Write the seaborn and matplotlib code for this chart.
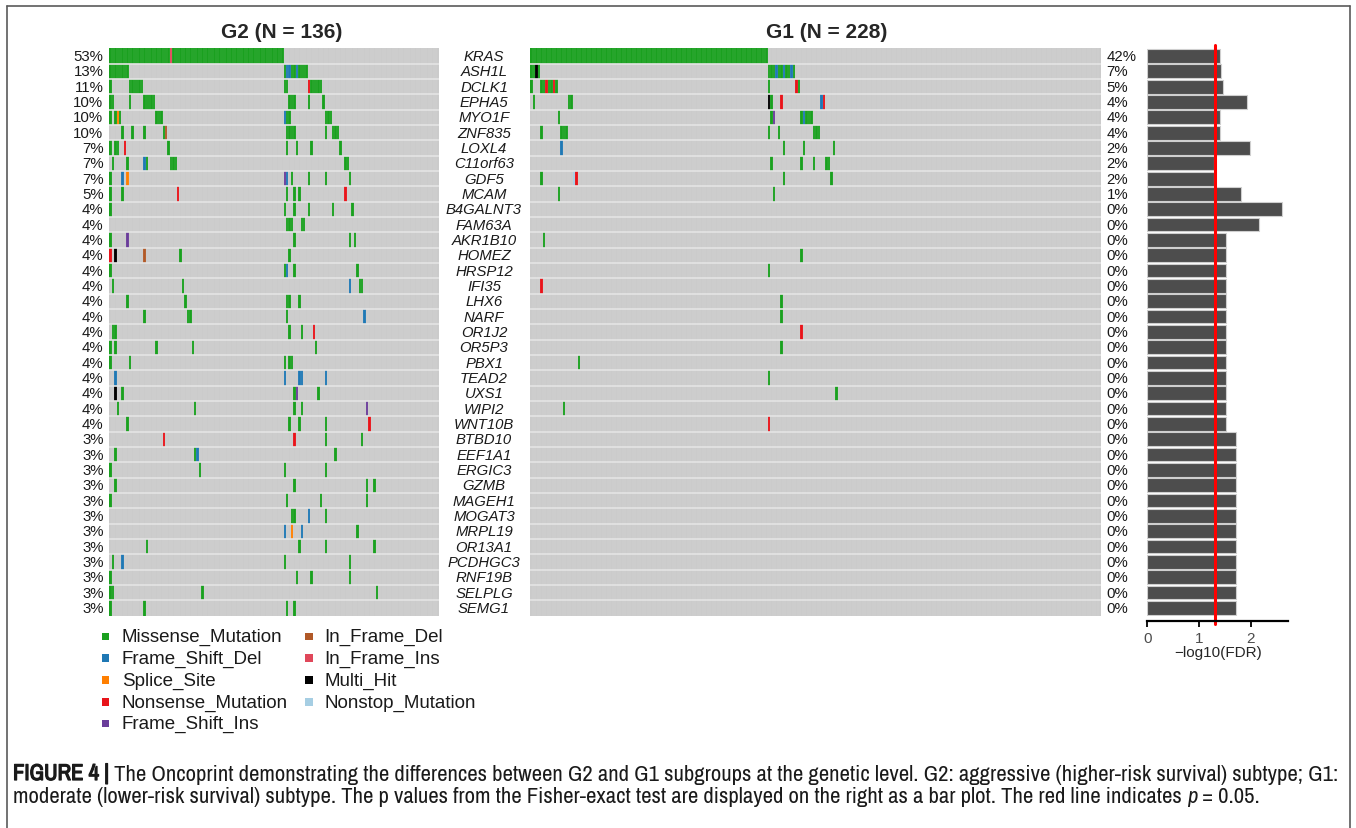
import numpy as np
import pandas as pd
import seaborn as sns
import matplotlib
matplotlib.use("Agg")
import matplotlib.pyplot as plt
import matplotlib.patheffects as pe
from matplotlib.colors import ListedColormap
from matplotlib.transforms import blended_transform_factory
from matplotlib.patches import Rectangle
from matplotlib.lines import Line2D
from matplotlib import font_manager

# ---------------- data ----------------
genes = ["KRAS", "ASH1L", "DCLK1", "EPHA5", "MYO1F", "ZNF835", "LOXL4", "C11orf63",
         "GDF5", "MCAM", "B4GALNT3", "FAM63A", "AKR1B10", "HOMEZ", "HRSP12", "IFI35",
         "LHX6", "NARF", "OR1J2", "OR5P3", "PBX1", "TEAD2", "UXS1", "WIPI2", "WNT10B",
         "BTBD10", "EEF1A1", "ERGIC3", "GZMB", "MAGEH1", "MOGAT3", "MRPL19", "OR13A1",
         "PCDHGC3", "RNF19B", "SELPLG", "SEMG1"]

n_g2 = 136
n_g1 = 228

mut_types = ["Missense_Mutation", "Frame_Shift_Del", "Splice_Site", "Nonsense_Mutation",
             "Frame_Shift_Ins", "In_Frame_Del", "In_Frame_Ins", "Multi_Hit", "Nonstop_Mutation"]
mut_codes = ["M", "D", "S", "N", "I", "d", "i", "X", "T"]
mut_colors = ["#1AA01F", "#1F78B4", "#FF7F00", "#E8141A", "#6A3D9A",
              "#B15928", "#E0475A", "#000000", "#A6CEE3"]

# sample index (or range) + mutation code, one string per gene (G2 samples)
g2_calls = [
    "0-24M 25i 26-71M",
    "0-7M 72M 73-74D 75-76M 77D 78-81M",
    "0M 8-13M 72-73M 82N 83-87M",
    "0-1M 8M 14-18M 74-76M 82M 88M",
    "0M 2M 3S 4M 19-21M 72D 73-74M 89-91M",
    "5M 9M 14M 22M 23d 73-76M 89M 92-94M",
    "0M 2-3M 6N 24M 73M 77M 83M 95M",
    "1M 7M 14D 15M 25-27M 97-98M",
    "0M 5D 7S 72I 73D 75M 82M 89M 99M",
    "0M 5M 28N 73M 76M 78M 97N",
    "0M 72M 76M 82M 92M 100M",
    "73-75M 79-80M",
    "0M 7I 76M 99M 101M",
    "0N 2X 14d 29M 74M",
    "0M 72M 73D 76M 102M",
    "1M 30M 99D 103-104M",
    "7M 31M 73-74M 78M",
    "14M 32-33M 73M 105D",
    "1-2M 74M 79M 84N",
    "0M 2M 19M 34M 85M",
    "0M 8M 72M 74-75M",
    "2D 72D 78-79D 89D",
    "2X 5M 76M 77I 86M",
    "3M 35M 76M 79M 106I",
    "7M 74M 78M 89M 107N",
    "22N 76N 89M 104M",
    "2M 35M 36D 93M",
    "0M 37M 72M 89M",
    "2M 76M 106M 109M",
    "0M 73M 87M 106M",
    "75-76M 82D 89M",
    "72D 75S 79D 102M",
    "15M 78M 89M 109M",
    "1M 5D 72M 99M",
    "0M 77M 83M 99M",
    "0-1M 38M 110M",
    "0M 14M 73M 76M",
]

# G1 samples
g1_calls = [
    "0-94M",
    "0-1M 2X 3M 95-97M 98D 99-100M 101D 102-103M 104D 105M",
    "0M 4-5M 6N 7-8M 9N 10M 95M 106N 107M",
    "1M 15-16M 95X 96M 100N 116D 117N",
    "11M 96M 97I 108M 109D 110-112M",
    "4M 12-14M 95M 99M 113-115M",
    "12D 101M 109M 121M",
    "96M 108M 113M 118-119M",
    "4M 17T 18N 101M 120M",
    "11M 97M",
    "",
    "",
    "5M",
    "108M",
    "95M",
    "4N",
    "100M",
    "100M",
    "108N",
    "100M",
    "19M",
    "95M",
    "122M",
    "13M",
    "95N",
    "", "", "", "", "", "", "", "", "", "", "", "",
]

# -log10(FDR) of Fisher exact test per gene
neglog10_fdr = [1.40, 1.42, 1.46, 1.93, 1.40, 1.40, 1.98, 1.28, 1.28, 1.81,
                2.60, 2.16, 1.53, 1.53, 1.53, 1.53, 1.53, 1.53, 1.53, 1.53,
                1.53, 1.53, 1.53, 1.53, 1.53, 1.72, 1.72, 1.72, 1.72, 1.72,
                1.72, 1.72, 1.72, 1.72, 1.72, 1.72, 1.72]
p_threshold = 0.05

caption_line1 = [("FIGURE 4 |", "bold", "normal"),
                 (" The Oncoprint demonstrating the differences between G2 and G1 subgroups at the genetic level. G2: aggressive (higher-risk survival) subtype; G1:", "normal", "normal")]
caption_line2 = [("moderate (lower-risk survival) subtype. The p values from the Fisher-exact test are displayed on the right as a bar plot. The red line indicates ", "normal", "normal"),
                 ("p", "normal", "italic"),
                 (" = 0.05.", "normal", "normal")]

# ---------------- helpers ----------------
def build_matrix(calls, n):
    mat = np.zeros((len(genes), n), dtype=int)
    for r, s in enumerate(calls):
        for tok in s.split():
            code, rng = tok[-1], tok[:-1]
            if "-" in rng:
                a, b = map(int, rng.split("-"))
            else:
                a = b = int(rng)
            mat[r, a:b + 1] = mut_codes.index(code) + 1
    return mat

def pct(mat):
    cnt = (mat > 0).sum(axis=1)
    return [int(np.floor(100.0 * c / mat.shape[1] + 0.5)) for c in cnt]

mat_g2 = build_matrix(g2_calls, n_g2)
mat_g1 = build_matrix(g1_calls, n_g1)

# ---------------- figure ----------------
sns.set_theme(style="white")
plt.rcParams["font.family"] = ["Liberation Sans", "DejaVu Sans"]

# pick a condensed face for the caption if one is installed
cap_family = "Liberation Sans"
for f in font_manager.fontManager.ttflist:
    if "Narrow" in f.name:
        cap_family = f.name
        break

W, H = 1356, 829
fig = plt.figure(figsize=(W / 100, H / 100), dpi=100)

def fx(px):
    return px / W

def fy(py):
    return 1 - py / H

top, bot = 49.3, 616.5
ax1 = fig.add_axes([fx(109.3), fy(bot), (438.5 - 109.3) / W, (bot - top) / H])
ax2 = fig.add_axes([fx(530), fy(bot), (1100.5 - 530) / W, (bot - top) / H])
ax3 = fig.add_axes([fx(1147.3), fy(bot), (1288 - 1147.3) / W, (bot - top) / H])

cmap = ListedColormap(["#CBCBCB"] + mut_colors)
for ax, mat in ((ax1, mat_g2), (ax2, mat_g1)):
    sns.heatmap(pd.DataFrame(mat, index=genes), ax=ax, cmap=cmap, vmin=-0.5,
                vmax=len(mut_codes) + 0.5, cbar=False, linewidths=0,
                xticklabels=False, yticklabels=False)
    ncol = mat.shape[1]
    ax.vlines(np.arange(1, ncol), 0, len(genes), colors="white", lw=0.35, alpha=0.22)
    ax.hlines(np.arange(1, len(genes)), 0, ncol, colors="#E4E4E4", lw=1.2)
    ax.set_xlabel("")
    ax.set_ylabel("")
    for sp in ax.spines.values():
        sp.set_visible(False)

# percentages
for i, p in enumerate(pct(mat_g2)):
    ax1.text(-2.4, i + 0.5, f"{p}%", ha="right", va="center", fontsize=10.8, color="#1A1A1A")
for i, p in enumerate(pct(mat_g1)):
    ax2.text(n_g1 + 2.4, i + 0.5, f"{p}%", ha="left", va="center", fontsize=10.8, color="#1A1A1A")

# gene names
trans = blended_transform_factory(fig.transFigure, ax1.transData)
for i, g in enumerate(genes):
    fig.text(fx(484), i + 0.5, g, transform=trans, ha="center", va="center",
             fontsize=10.7, style="italic", color="#1A1A1A")

# titles
fig.text(fx(282), fy(32), f"G2 (N = {n_g2})", ha="center", va="center", weight="bold", fontsize=15)
fig.text(fx(827), fy(32), f"G1 (N = {n_g1})", ha="center", va="center", weight="bold", fontsize=15)

# bar plot
df_bar = pd.DataFrame({"gene": genes, "val": neglog10_fdr})
sns.barplot(data=df_bar, x="val", y="gene", orient="h", color="#4D4D4D", saturation=1,
            edgecolor="#CFCFCF", linewidth=0.8, width=0.9, ax=ax3)
ax3.set_ylim(len(genes) - 0.5, -0.5)
ax3.set_xlim(0, 2.72)
ax3.set_yticks([])
ax3.set_ylabel("")
for s in ("left", "top", "right"):
    ax3.spines[s].set_visible(False)
ax3.spines["bottom"].set_position(("outward", 4.3))
ax3.spines["bottom"].set_linewidth(1.6)
ax3.spines["bottom"].set_color("black")
ax3.set_xticks([0, 1, 2])
ax3.tick_params(axis="x", bottom=True, length=4, width=1.3, color="black",
                labelsize=11, labelcolor="#4D4D4D", pad=3)
ax3.set_xlabel("\u2212log10(FDR)", fontsize=11, labelpad=0)
ax3.axvline(-np.log10(p_threshold), color="red", lw=2.2, ymin=-0.015, ymax=1.006, clip_on=False)

# legend
leg_rows_y = [637.3, 659.0, 681.0, 703.0, 724.5]
col_sq_x = [105.3, 309.2]
col_txt_x = [121.7, 324.0]
sq = 7.5
for k, (name, col) in enumerate(zip(mut_types, mut_colors)):
    c = 0 if k < 5 else 1
    r = k if k < 5 else k - 5
    y = leg_rows_y[r]
    fig.add_artist(Rectangle((fx(col_sq_x[c] - sq / 2), fy(y + sq / 2)), sq / W, sq / H,
                             transform=fig.transFigure, facecolor=col, edgecolor="none"))
    fig.text(fx(col_txt_x[c]), fy(y), name, ha="left", va="center", fontsize=13.5, color="#1A1A1A")

# frame
lc = "#5A5A5A"
fig.add_artist(Line2D([fx(6.5), fx(1349.5)], [fy(6.5), fy(6.5)], color=lc, lw=1.2, transform=fig.transFigure))
fig.add_artist(Line2D([fx(6.5), fx(6.5)], [fy(6.5), 0], color=lc, lw=1.2, transform=fig.transFigure))
fig.add_artist(Line2D([fx(1349.5), fx(1349.5)], [fy(6.5), 0], color=lc, lw=1.2, transform=fig.transFigure))

# caption
renderer = fig.canvas.get_renderer()
cap_col = "#1A1A1A"

def w_of(s, **kw):
    t = fig.text(0, 0, s + "|", **kw)
    w1 = t.get_window_extent(renderer).width
    t.set_text("|")
    w2 = t.get_window_extent(renderer).width
    t.remove()
    return w1 - w2

def runs_width(runs, size):
    return sum(w_of(s, fontsize=size, weight=wt, style=st, family=cap_family) for s, wt, st in runs)

base = 12.0
cap_size = base * (1336 - 13) / runs_width(caption_line1, base)

def draw_runs(x, y, runs, size):
    for s, wt, st in runs:
        effects = [pe.withStroke(linewidth=0.9, foreground=cap_col)] if wt == "bold" else None
        fig.text(fx(x), fy(y), s, fontsize=size, weight=wt, style=st, family=cap_family,
                 ha="left", va="baseline", color=cap_col, path_effects=effects)
        x += w_of(s, fontsize=size, weight=wt, style=st, family=cap_family)

draw_runs(13, 781, caption_line1, cap_size)
draw_runs(13, 803, caption_line2, cap_size)

fig.savefig("out.png", dpi=100)
